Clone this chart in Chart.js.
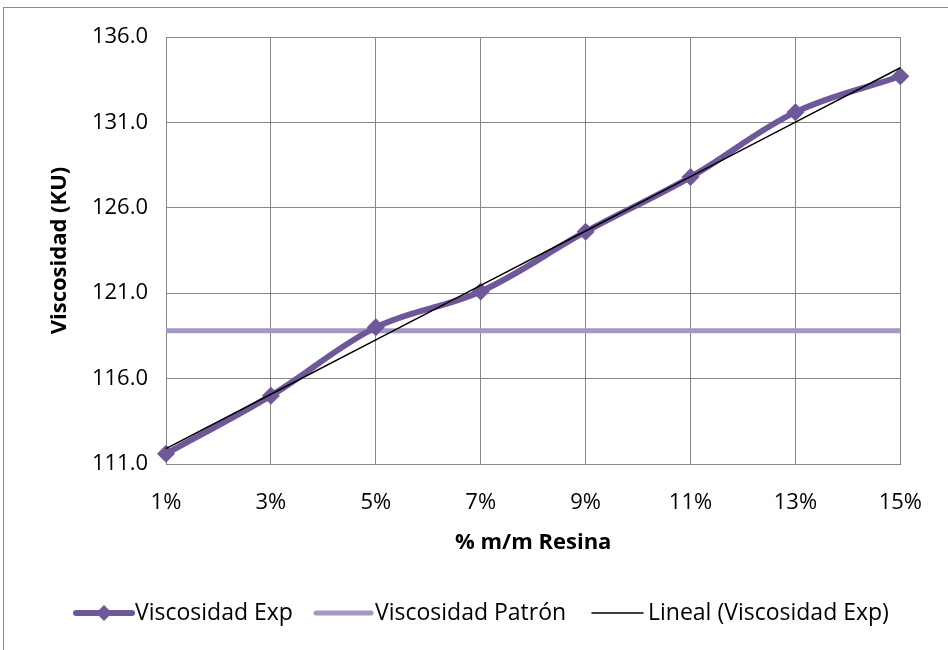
<!DOCTYPE html>
<html>
<head>
<meta charset="utf-8">
<script src="https://cdn.jsdelivr.net/npm/chart.js@4/dist/chart.umd.min.js"></script>
<style>
  html, body { margin: 0; padding: 0; background: #ffffff; }
  #wrap { position: relative; width: 948px; height: 650px; }
</style>
</head>
<body>
<div id="wrap"><canvas id="c" width="948" height="650"></canvas></div>
<script>
// Resin content (% m/m) and measured viscosity (KU)
const categories = ['1%', '3%', '5%', '7%', '9%', '11%', '13%', '15%'];
const viscosidadExp = [111.6, 115.0, 119.0, 121.1, 124.6, 127.8, 131.6, 133.7];
const viscosidadPatron = [118.8, 118.8, 118.8, 118.8, 118.8, 118.8, 118.8, 118.8];
const yTicks = [111, 116, 121, 126, 131, 136];

// Least-squares linear trend of the experimental series
function linearTrend(values) {
  const n = values.length;
  const xs = values.map((_, i) => i + 1);
  const mx = xs.reduce((a, b) => a + b, 0) / n;
  const my = values.reduce((a, b) => a + b, 0) / n;
  let sxy = 0, sxx = 0;
  for (let i = 0; i < n; i++) {
    sxy += (xs[i] - mx) * (values[i] - my);
    sxx += (xs[i] - mx) * (xs[i] - mx);
  }
  const m = sxy / sxx;
  return xs.map(x => my + m * (x - mx));
}
const tendencia = linearTrend(viscosidadExp);

const FONT = '"Open Sans", Lato, sans-serif';
const FSIZE = 22;
const C_EXP = '#6e5899';
const C_PAT = '#a596c2';

// Outer frame of the figure
const framePlugin = {
  id: 'frame',
  beforeDraw(chart) {
    const ctx = chart.ctx;
    ctx.save();
    ctx.strokeStyle = '#8c8c8c';
    ctx.lineWidth = 1;
    ctx.strokeRect(3.5, 7.5, 1000, 700);
    ctx.restore();
  }
};

// Legend row under the axis title
const legendPlugin = {
  id: 'legendRow',
  afterDraw(chart) {
    const ctx = chart.ctx;
    const y = 613;
    const items = [
      { ds: 0, x0: 76, x1: 132, tx: 135, marker: true },
      { ds: 1, x0: 316, x1: 371, tx: 375, marker: false },
      { ds: 2, x0: 592, x1: 643, tx: 648, marker: false }
    ];
    ctx.save();
    ctx.font = '23px ' + FONT;
    ctx.textBaseline = 'middle';
    ctx.textAlign = 'left';
    items.forEach(it => {
      const d = chart.data.datasets[it.ds];
      ctx.strokeStyle = d.borderColor;
      ctx.lineWidth = d.borderWidth;
      ctx.lineCap = 'round';
      ctx.beginPath();
      ctx.moveTo(it.x0, y);
      ctx.lineTo(it.x1, y);
      ctx.stroke();
      if (it.marker) {
        const cx = (it.x0 + it.x1) / 2, r = 8;
        ctx.fillStyle = d.pointBackgroundColor;
        ctx.beginPath();
        ctx.moveTo(cx, y - r);
        ctx.lineTo(cx + r, y);
        ctx.lineTo(cx, y + r);
        ctx.lineTo(cx - r, y);
        ctx.closePath();
        ctx.fill();
      }
      ctx.fillStyle = '#000000';
      ctx.fillText(d.label, it.tx, y);
    });
    ctx.restore();
  }
};

new Chart(document.getElementById('c'), {
  type: 'line',
  data: {
    labels: categories,
    datasets: [
      {
        label: 'Viscosidad Exp',
        data: viscosidadExp,
        borderColor: C_EXP,
        backgroundColor: C_EXP,
        pointBackgroundColor: C_EXP,
        pointBorderColor: C_EXP,
        borderWidth: 6,
        pointStyle: 'rectRot',
        pointRadius: 9,
        pointBorderWidth: 0,
        tension: 0.35,
        order: 1
      },
      {
        label: 'Viscosidad Patrón',
        data: viscosidadPatron,
        borderColor: C_PAT,
        backgroundColor: C_PAT,
        borderWidth: 5,
        pointRadius: 0,
        tension: 0,
        order: 2
      },
      {
        label: 'Lineal (Viscosidad Exp)',
        data: tendencia,
        borderColor: '#000000',
        backgroundColor: '#000000',
        borderWidth: 1.5,
        pointRadius: 0,
        tension: 0,
        order: 0
      }
    ]
  },
  options: {
    responsive: false,
    animation: false,
    devicePixelRatio: 1,
    layout: { padding: { left: 47, right: 45, top: 37, bottom: 94 } },
    plugins: {
      legend: { display: false },
      tooltip: { enabled: false }
    },
    scales: {
      x: {
        type: 'category',
        offset: false,
        grid: { color: '#878787', lineWidth: 1, tickLength: 0, drawTicks: false },
        border: { color: '#878787', width: 1 },
        ticks: { color: '#000', font: { family: FONT, size: FSIZE }, padding: 26, maxRotation: 0, autoSkip: false },
        title: { display: true, text: '% m/m Resina', color: '#000', font: { family: FONT, size: 22, weight: 'bold' }, padding: 0 },
        afterFit(s) { s.height = 92; }
      },
      y: {
        min: 111,
        max: 136,
        afterBuildTicks(s) { s.ticks = yTicks.map(v => ({ value: v })); },
        grid: { color: '#878787', lineWidth: 1, tickLength: 0, drawTicks: false },
        border: { color: '#878787', width: 1 },
        ticks: {
          color: '#000',
          font: { family: FONT, size: FSIZE },
          padding: 18,
          callback: v => Number(v).toFixed(1)
        },
        title: { display: true, text: 'Viscosidad (KU)', color: '#000', font: { family: FONT, size: 22, weight: 'bold' }, padding: 0 },
        afterFit(s) { s.width = 119; }
      }
    }
  },
  plugins: [framePlugin, legendPlugin]
});
</script>
</body>
</html>
